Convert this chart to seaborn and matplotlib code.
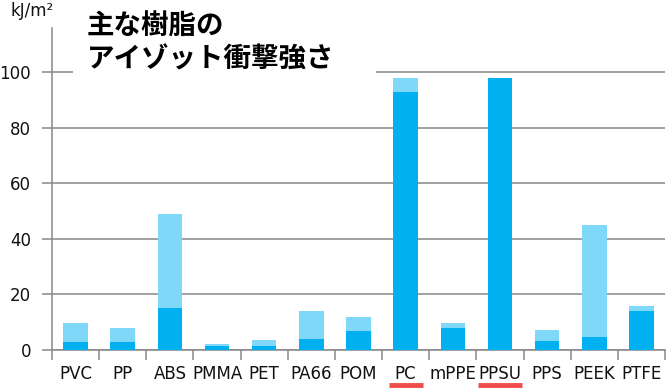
import matplotlib
matplotlib.use("Agg")
import matplotlib.pyplot as plt
import seaborn as sns
import pandas as pd
from matplotlib.patches import Rectangle
from matplotlib.transforms import blended_transform_factory

# Izod impact strength (kJ/m2): lower value and upper value of each resin
resins = ["PVC", "PP", "ABS", "PMMA", "PET", "PA66", "POM", "PC",
          "mPPE", "PPSU", "PPS", "PEEK", "PTFE"]
low_vals = [3, 3, 15, 1.5, 1.5, 4, 6.8, 93, 7.9, 98, 3.2, 4.7, 14]
high_vals = [9.7, 7.9, 49, 2.2, 3.6, 14, 11.9, 98, 9.7, 98, 7.2, 45, 15.8]
highlight = ["PC", "PPSU"]

df = pd.DataFrame({"resin": resins, "low": low_vals, "high": high_vals})

sns.set_theme(style="white")
plt.rcParams["font.family"] = ["DejaVu Sans", "Noto Sans CJK JP"]

fig = plt.figure(figsize=(6.7, 3.89), dpi=100)
ax = fig.add_axes([52 / 670, 1 - 350 / 389, 613 / 670, 322 / 389])

sns.barplot(data=df, x="resin", y="high", color="#80D8F8", saturation=1,
            width=0.52, ax=ax, zorder=3, linewidth=0, edgecolor="none")
sns.barplot(data=df, x="resin", y="low", color="#00B0F0", saturation=1,
            width=0.52, ax=ax, zorder=4, linewidth=0, edgecolor="none")

ax.set_xlim(-0.5, len(resins) - 0.5)
ax.set_ylim(0, 116)
ax.set_yticks(range(0, 101, 20))
ax.yaxis.grid(True, color="#888888", linewidth=1.1, zorder=0)
ax.set_axisbelow(True)
ax.set_xlabel("")
ax.set_ylabel("")

for s in ["top", "right"]:
    ax.spines[s].set_visible(False)
for s in ["left", "bottom"]:
    ax.spines[s].set_color("#888888")
    ax.spines[s].set_linewidth(1.1)

ax.tick_params(axis="y", which="major", left=True, length=7, width=1.1,
               color="#888888", pad=8, labelsize=12, labelcolor="#111111")
ax.set_xticks([i - 0.5 for i in range(len(resins) + 1)], minor=True)
ax.tick_params(axis="x", which="minor", bottom=True, length=7, width=1.1,
               color="#888888")
ax.tick_params(axis="x", which="major", bottom=False, length=0, pad=11,
               labelsize=12, labelcolor="#111111")

# red underline below highlighted resins
trans = blended_transform_factory(ax.transData, ax.transAxes)
for name, half in zip(highlight, [0.36, 0.46]):
    i = resins.index(name)
    ax.plot([i - half, i + half], [-0.11, -0.11], color="#F04B4B",
            linewidth=3.5, transform=trans, clip_on=False,
            solid_capstyle="butt")

# title box covering gridline
fig.add_artist(Rectangle((73 / 670, 1 - 80 / 389), 303 / 670, 80 / 389,
                         transform=fig.transFigure, facecolor="white",
                         edgecolor="none", zorder=5))
fig.text(87 / 670, 1 - 13 / 389, "主な樹脂の\nアイゾット衝撃強さ",
         ha="left", va="top", fontsize=19.8, fontweight="bold",
         family=["Noto Sans CJK JP", "DejaVu Sans"], color="#000000",
         linespacing=1.2, zorder=6)
fig.text(10 / 670, 1 - 2 / 389, "kJ/m²", ha="left", va="top",
         fontsize=12, color="#111111")

fig.savefig("out.png", dpi=100)
